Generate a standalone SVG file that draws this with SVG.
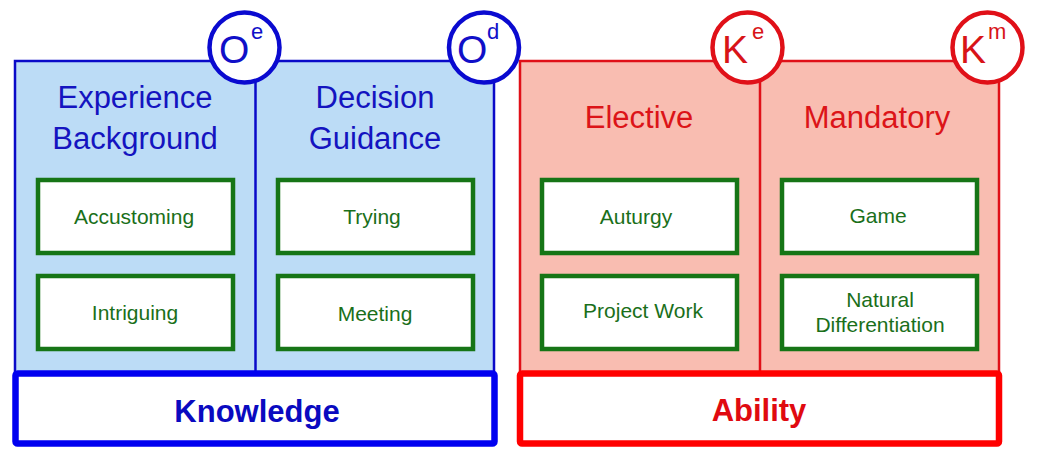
<svg xmlns="http://www.w3.org/2000/svg" width="1039" height="460" viewBox="0 0 1039 460">
<style>
.bpanel{fill:#bcdcf6;stroke:#0a0ac8;stroke-width:2.5}
.rpanel{fill:#f9bdb1;stroke:#e01018;stroke-width:2.5}
.bdiv{stroke:#0a0ac8;stroke-width:2.5}
.rdiv{stroke:#e01018;stroke-width:2.5}
.gbox{fill:#fff;stroke:#167516;stroke-width:4.5}
.gtxt{font-family:"Liberation Sans",Arial,sans-serif;font-size:21px;fill:#1a6f1a;text-anchor:middle}
.bhead{font-family:"Liberation Sans",Arial,sans-serif;font-size:31px;fill:#1414c0;text-anchor:middle}
.rhead{font-family:"Liberation Sans",Arial,sans-serif;font-size:31px;fill:#dc1418;text-anchor:middle}
.bcirc{fill:#fff;stroke:#0a0ad0;stroke-width:4.5}
.rcirc{fill:#fff;stroke:#e01018;stroke-width:4.5}
.ctxt{font-family:"Liberation Sans",Arial,sans-serif;font-size:39px}
.csup{font-family:"Liberation Sans",Arial,sans-serif;font-size:22px}
.bbar{fill:#fff;stroke:#0000f0;stroke-width:6.5}
.rbar{fill:#fff;stroke:#ff0000;stroke-width:6.5}
.bartxt{font-family:"Liberation Sans",Arial,sans-serif;font-size:31px;font-weight:bold;text-anchor:middle}
</style>
<g id="knowledge-panel">
<rect class="bpanel" x="15" y="61" width="479" height="312"/>
<line class="bdiv" x1="255.5" y1="61" x2="255.5" y2="373"/>
</g>
<g id="ability-panel">
<rect class="rpanel" x="520" y="61" width="479" height="312"/>
<line class="rdiv" x1="760" y1="61" x2="760" y2="373"/>
</g>
<g id="experience-background">
<text class="bhead" x="135" y="108">Experience</text>
<text class="bhead" x="135" y="149">Background</text>
</g>
<g id="decision-guidance">
<text class="bhead" x="375" y="108">Decision</text>
<text class="bhead" x="375" y="149">Guidance</text>
</g>
<g id="elective"><text class="rhead" x="639" y="128">Elective</text></g>
<g id="mandatory"><text class="rhead" x="877" y="128">Mandatory</text></g>
<g id="accustoming"><rect class="gbox" x="38" y="180" width="195" height="73"/><text class="gtxt" x="134" y="224">Accustoming</text></g>
<g id="intriguing"><rect class="gbox" x="38" y="276" width="195" height="73"/><text class="gtxt" x="135" y="320">Intriguing</text></g>
<g id="trying"><rect class="gbox" x="278" y="180" width="195" height="73"/><text class="gtxt" x="372" y="224">Trying</text></g>
<g id="meeting"><rect class="gbox" x="278" y="276" width="195" height="73"/><text class="gtxt" x="375" y="321">Meeting</text></g>
<g id="auturgy"><rect class="gbox" x="542" y="180" width="195" height="73"/><text class="gtxt" x="636" y="224">Auturgy</text></g>
<g id="project-work"><rect class="gbox" x="542" y="276" width="195" height="73"/><text class="gtxt" x="643" y="318">Project Work</text></g>
<g id="game"><rect class="gbox" x="782" y="180" width="195" height="73"/><text class="gtxt" x="878" y="223">Game</text></g>
<g id="natural-differentiation"><rect class="gbox" x="782" y="276" width="195" height="73"/><text class="gtxt" x="880" y="307">Natural</text><text class="gtxt" x="880" y="332">Differentiation</text></g>
<g id="circle-oe"><circle class="bcirc" cx="244.5" cy="47.5" r="35"/><text class="ctxt" x="219" y="63" fill="#1010c8">O</text><text class="csup" x="251" y="39" fill="#1010c8">e</text></g>
<g id="circle-od"><circle class="bcirc" cx="484" cy="47.5" r="35"/><text class="ctxt" x="457" y="63" fill="#1010c8">O</text><text class="csup" x="487" y="39" fill="#1010c8">d</text></g>
<g id="circle-ke"><circle class="rcirc" cx="747.5" cy="47.5" r="35"/><text class="ctxt" x="722" y="63" fill="#d81418">K</text><text class="csup" x="752" y="39" fill="#d81418">e</text></g>
<g id="circle-km"><circle class="rcirc" cx="987.5" cy="47.5" r="35"/><text class="ctxt" x="960" y="63" fill="#d81418">K</text><text class="csup" x="988" y="39" fill="#d81418">m</text></g>
<g id="knowledge"><rect class="bbar" x="15.5" y="373.5" width="479" height="70" rx="2"/><text class="bartxt" x="257" y="422" fill="#0a0ac0">Knowledge</text></g>
<g id="ability"><rect class="rbar" x="520" y="373.5" width="479" height="70" rx="2"/><text class="bartxt" x="759" y="421" fill="#e00a10">Ability</text></g>
<g id="connectors"/>
</svg>
